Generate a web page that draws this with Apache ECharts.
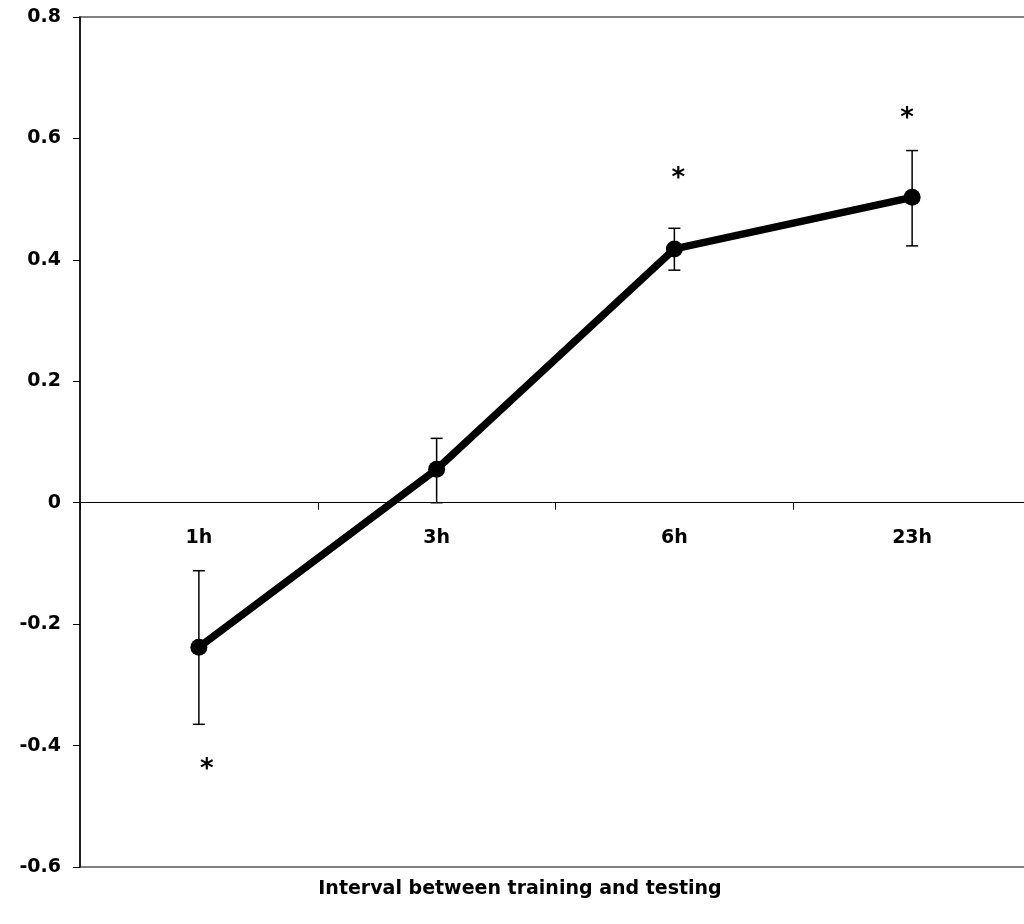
<!DOCTYPE html>
<html>
<head>
<meta charset="utf-8">
<script src="https://cdn.jsdelivr.net/npm/echarts@6/dist/echarts.min.js"></script>
<style>
  html, body { margin: 0; padding: 0; background: #fff; }
  #chart { width: 1024px; height: 924px; }
</style>
</head>
<body>
<div id="chart"></div>
<script>
// 資料
const categories = ['1h', '3h', '6h', '23h']
const means = [-0.238, 0.055, 0.418, 0.503]
const errLow = [-0.365, 0.0, 0.383, 0.423]
const errHigh = [-0.112, 0.106, 0.452, 0.580]
// 顯著性星號位置 (y 值)
const starY = [-0.43, 0.543, 0.642]
const starCats = ['1h', '6h', '23h']
const starShiftX = [8, 4, -5]

const FONT = 'DejaVu Sans'

const chart = echarts.init(document.getElementById('chart'))

chart.setOption({
  animation: false,
  backgroundColor: '#fff',
  title: {
    text: 'Interval between training and testing',
    left: 515, top: 875, textAlign: 'center',
    textStyle: { fontFamily: FONT, fontWeight: 'bold', fontSize: 19, color: '#000' }
  },
  grid: {
    left: 80, right: -7, top: 17, bottom: 57,
    containLabel: false,
    outerBoundsMode: 'none',
    show: true, borderColor: '#808080', borderWidth: 2
  },
  xAxis: {
    type: 'category',
    data: categories,
    boundaryGap: true,
    axisLine: { onZero: true, lineStyle: { color: '#000', width: 1 } },
    axisTick: { show: true, alignWithLabel: false, length: 7, inside: false, lineStyle: { color: '#000' } },
    // 類別標籤改由下方 scatter 畫在 0 線下方
    axisLabel: { show: false },
    splitLine: { show: false }
  },
  yAxis: {
    type: 'value',
    min: -0.6, max: 0.8, interval: 0.2,
    axisLine: { show: true, lineStyle: { color: '#000', width: 1.5 } },
    axisTick: { show: true, length: 7, lineStyle: { color: '#000' } },
    axisLabel: {
      fontFamily: FONT, fontWeight: 'bold', fontSize: 19, color: '#000', margin: 19,
      formatter: v => (Math.round(v * 10) / 10).toString()
    },
    splitLine: { show: false }
  },
  series: [
    {
      type: 'custom',
      z: 1,
      renderItem: (params, api) => {
        const x = api.coord([api.value(0), api.value(1)])[0]
        const yl = api.coord([api.value(0), api.value(1)])[1]
        const yh = api.coord([api.value(0), api.value(2)])[1]
        const half = 6
        const style = { stroke: '#000', lineWidth: 1.5 }
        return {
          type: 'group',
          children: [
            { type: 'line', shape: { x1: x, y1: yl, x2: x, y2: yh }, style },
            { type: 'line', shape: { x1: x - half, y1: yl, x2: x + half, y2: yl }, style },
            { type: 'line', shape: { x1: x - half, y1: yh, x2: x + half, y2: yh }, style }
          ]
        }
      },
      data: categories.map((c, i) => [c, errLow[i], errHigh[i]])
    },
    {
      type: 'line',
      z: 2,
      data: means,
      symbol: 'circle',
      symbolSize: 17,
      lineStyle: { color: '#000', width: 7.5 },
      itemStyle: { color: '#000' }
    },
    {
      // 類別標籤
      type: 'scatter',
      z: 3,
      symbolSize: 0,
      silent: true,
      itemStyle: { opacity: 1 },
      data: categories.map(c => [c, 0]),
      label: {
        show: true,
        position: 'inside',
        offset: [0, 35],
        formatter: p => p.value[0],
        fontFamily: FONT,
        fontWeight: 'bold',
        fontSize: 19,
        color: '#000',
        opacity: 1
      }
    },
    {
      type: 'scatter',
      z: 3,
      symbolSize: 0,
      silent: true,
      itemStyle: { opacity: 1 },
      data: starCats.map((c, i) => ({
        value: [c, starY[i]],
        label: { offset: [starShiftX[i], 6] }
      })),
      label: {
        show: true,
        position: 'inside',
        formatter: '*',
        fontFamily: FONT,
        fontWeight: 'bold',
        fontSize: 26,
        color: '#000',
        opacity: 1
      }
    }
  ]
})
</script>
</body>
</html>
